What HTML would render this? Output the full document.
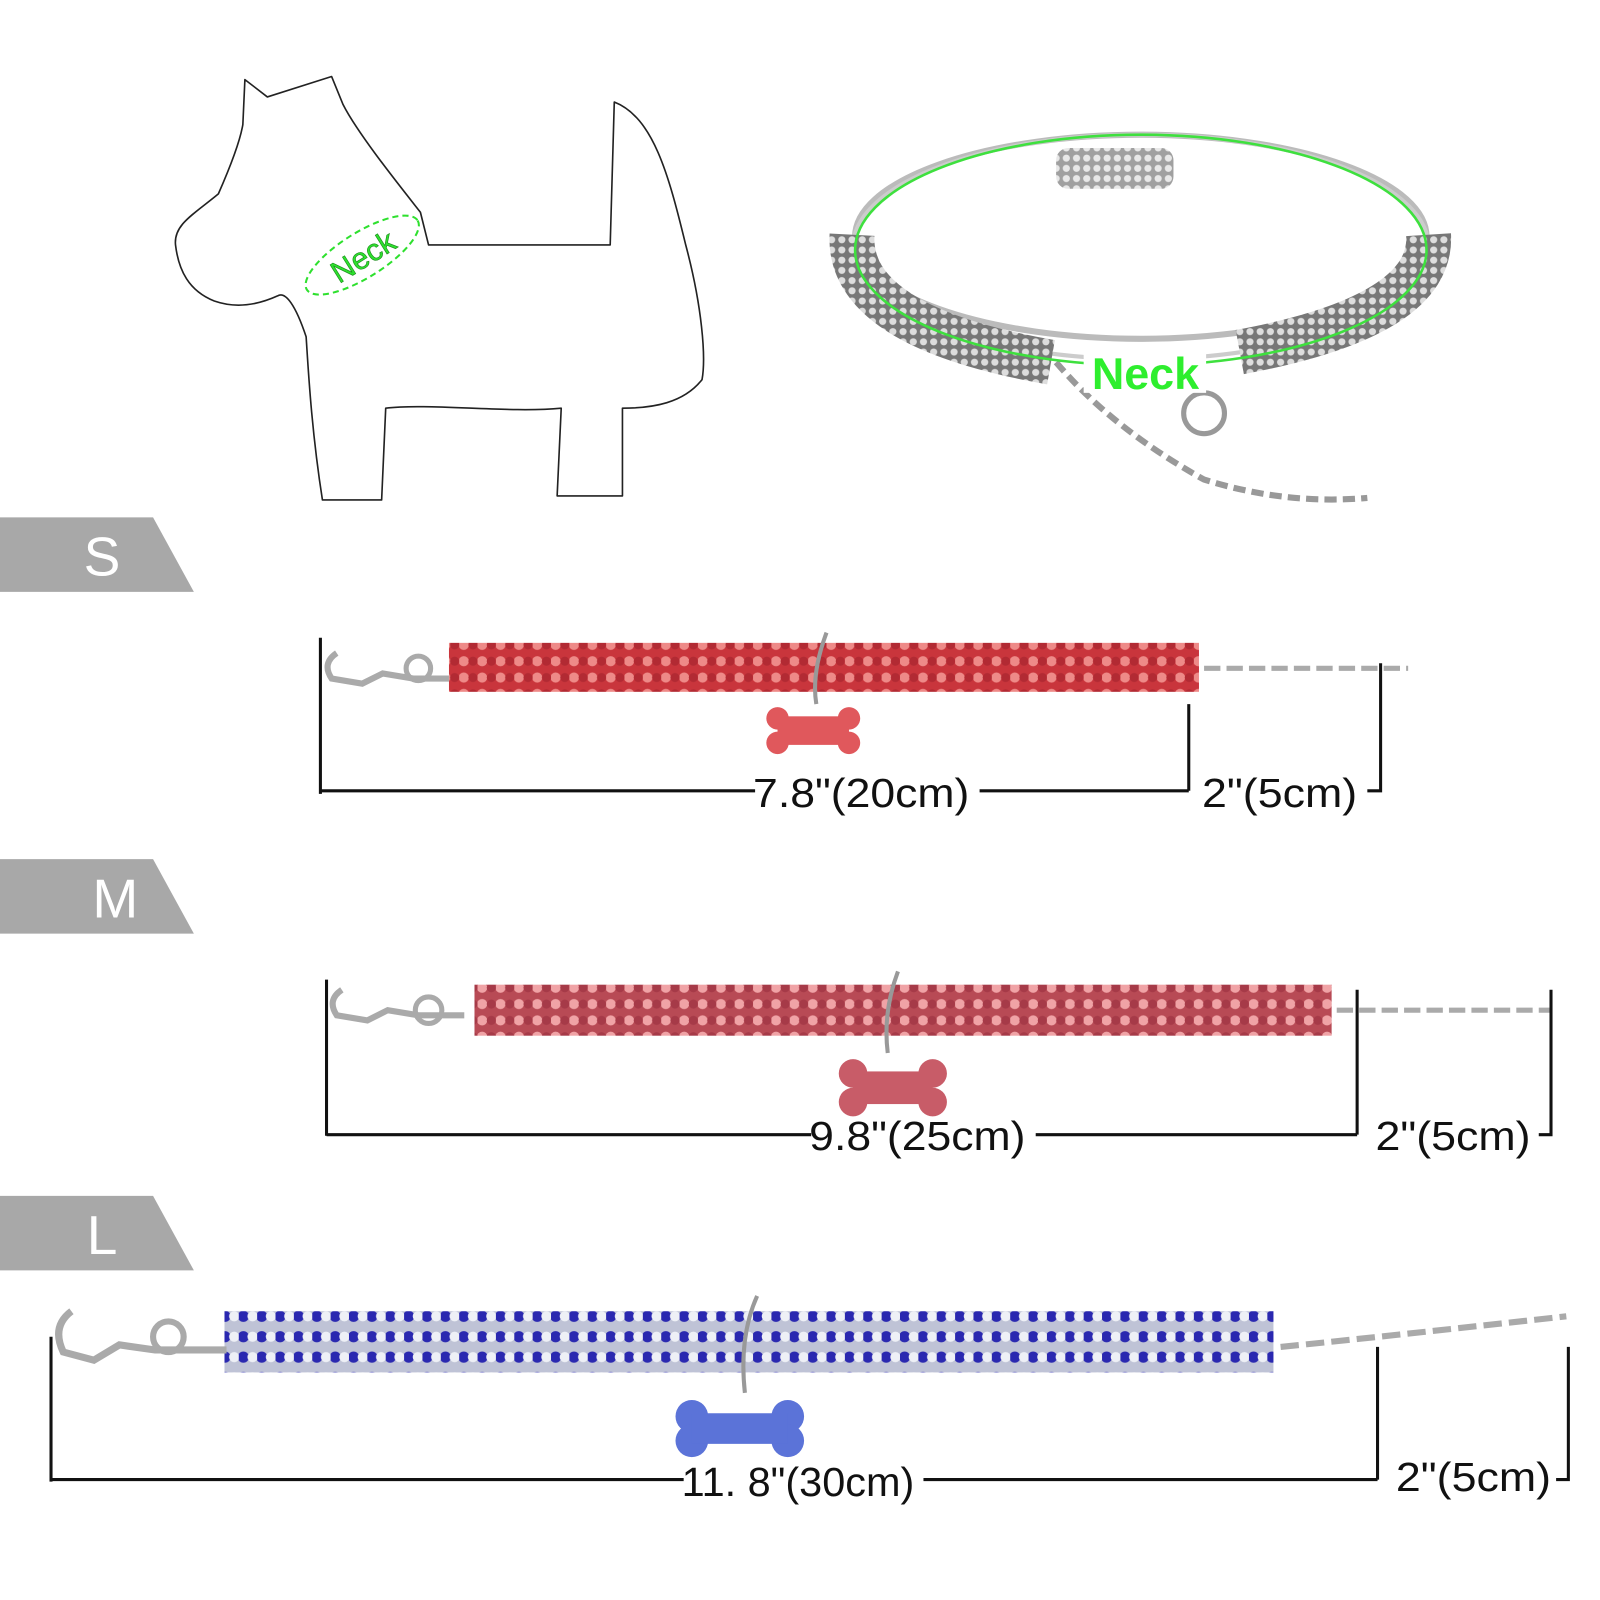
<!DOCTYPE html>
<html><head><meta charset="utf-8"><style>
html,body{margin:0;padding:0;background:#fff;width:1600px;height:1600px;overflow:hidden}
#w{position:absolute;left:0;top:0;width:1568px;height:1568px;transform:scale(1.0204);transform-origin:0 0}
svg{position:absolute;left:0;top:0}
text{font-family:"Liberation Sans",sans-serif}
</style></head><body><div id="w">
<svg width="1568" height="1568" viewBox="0 0 1568 1568">
<defs>
<pattern id="red" width="18" height="16" patternUnits="userSpaceOnUse">
<rect width="18" height="16" fill="#c9353c"/><circle cx="4.5" cy="8" r="5" fill="#ee8a88"/><circle cx="13.5" cy="8" r="4.5" fill="#b22a33"/>
</pattern>
<pattern id="pink" width="18" height="16" patternUnits="userSpaceOnUse">
<rect width="18" height="16" fill="#b84a55"/><circle cx="4.5" cy="8" r="5" fill="#f0a3a6"/><circle cx="13.5" cy="8" r="4.5" fill="#a63a48"/>
</pattern>
<pattern id="blue" width="18" height="20" patternUnits="userSpaceOnUse">
<rect width="18" height="20" fill="#bfc3d6"/><circle cx="4.5" cy="10" r="5.5" fill="#2a28b0"/><circle cx="13.5" cy="10" r="5" fill="#eef0f6"/>
</pattern>
<pattern id="gray" width="10" height="10" patternUnits="userSpaceOnUse">
<rect width="10" height="10" fill="#777"/><circle cx="5" cy="5" r="3.5" fill="#ddd"/>
</pattern>
</defs>

<!-- dog -->
<path d="M238,122 L240,78 L262,95 L325,75 L336,102 C350,130 390,180 412,208 L420,240 L598,240 L602,100 C640,115 655,170 672,240 C688,300 692,350 688,372 C670,395 640,400 610,400 L610,486 L546,486 L550,400 C500,405 420,395 378,400 L374,490 L316,490 C305,420 302,360 300,330 C290,300 280,285 272,290 C250,300 230,302 210,295 C185,285 175,265 172,240 C170,220 190,210 214,190 C225,165 235,140 238,122 Z" fill="none" stroke="#222" stroke-width="1.6" stroke-linejoin="round"/>
<ellipse cx="355" cy="250" rx="64" ry="22" transform="rotate(-32 355 250)" fill="none" stroke="#2ee02e" stroke-width="2" stroke-dasharray="6 4"/>
<text x="355" y="262" font-size="30" fill="#2ee02e" text-anchor="middle" transform="rotate(-32 355 250)" stroke="#1a8a1a" stroke-width="0.6">Neck</text>

<!-- collar -->
<ellipse cx="1118" cy="232" rx="280" ry="100" fill="none" stroke="#bbb" stroke-width="6"/>
<ellipse cx="1118" cy="242" rx="282" ry="110" fill="none" stroke="#ccc" stroke-width="4"/>
<path d="M835,230 Q830,320 1030,355" fill="none" stroke="url(#gray)" stroke-width="44"/>
<path d="M1400,230 Q1405,310 1215,345" fill="none" stroke="url(#gray)" stroke-width="44"/>
<rect x="1035" y="145" width="115" height="40" rx="12" fill="url(#gray)" opacity=".7"/>
<path d="M1035,355 Q1090,420 1180,470 Q1260,495 1340,488" fill="none" stroke="#999" stroke-width="6" stroke-dasharray="12 6"/>
<circle cx="1180" cy="405" r="20" fill="none" stroke="#999" stroke-width="5"/>
<ellipse cx="1118" cy="245" rx="280" ry="113" fill="none" stroke="#3ee03e" stroke-width="2.5"/>
<rect x="1062" y="345" width="120" height="40" fill="#fff"/>
<text x="1070" y="381" font-size="44" font-weight="bold" fill="#2eee2e">Neck</text>

<!-- size tags -->
<g fill="#a8a8a8">
<path d="M0,507 H150 L190,580 H0Z"/><path d="M0,842 H150 L190,915 H0Z"/><path d="M0,1172 H150 L190,1245 H0Z"/>
</g>
<g fill="#fff" font-size="54" text-anchor="middle">
<text x="100" y="564">S</text><text x="113" y="899">M</text><text x="100" y="1229">L</text>
</g>

<!-- S -->
<rect x="440" y="630" width="735" height="48" fill="url(#red)"/>
<path d="M330,640 q-15,10 -5,25 l30,5 l20,-10 l30,5 l35,0" fill="none" stroke="#aaa" stroke-width="6"/>
<circle cx="410" cy="655" r="12" fill="none" stroke="#aaa" stroke-width="5"/>
<path d="M1180,655 h200" fill="none" stroke="#aaa" stroke-width="5" stroke-dasharray="16 6"/>
<path d="M810,620 q-15,40 -10,70" fill="none" stroke="#999" stroke-width="4"/>
<g fill="#e0585c"><circle cx="762" cy="704" r="11"/><circle cx="762" cy="728" r="11"/><circle cx="832" cy="704" r="11"/><circle cx="832" cy="728" r="11"/><rect x="762" y="702" width="70" height="28"/></g>
<g stroke="#111" stroke-width="3" fill="none">
<path d="M314,625 V778 M314,775 H740 M960,775 H1165 M1165,690 V775"/>
<path d="M1340,775 H1353 V650"/>
</g>
<g font-size="40" fill="#111"><text x="738" y="791" textLength="212" lengthAdjust="spacingAndGlyphs">7.8"(20cm)</text><text x="1178" y="791" textLength="152" lengthAdjust="spacingAndGlyphs">2"(5cm)</text></g>

<!-- M -->
<rect x="465" y="965" width="840" height="50" fill="url(#pink)"/>
<path d="M335,970 q-15,10 -5,25 l30,5 l20,-10 l30,5 l45,0" fill="none" stroke="#aaa" stroke-width="6"/>
<circle cx="420" cy="990" r="13" fill="none" stroke="#aaa" stroke-width="5"/>
<path d="M1310,990 h210" fill="none" stroke="#aaa" stroke-width="5" stroke-dasharray="16 6"/>
<path d="M880,952 q-15,40 -10,80" fill="none" stroke="#999" stroke-width="4"/>
<g fill="#c85c68"><circle cx="836" cy="1052" r="14"/><circle cx="836" cy="1080" r="14"/><circle cx="914" cy="1052" r="14"/><circle cx="914" cy="1080" r="14"/><rect x="836" y="1050" width="78" height="32"/></g>
<g stroke="#111" stroke-width="3" fill="none">
<path d="M320,960 V1113 M320,1112 H795 M1015,1112 H1330 M1330,970 V1112"/>
<path d="M1508,1112 H1520 V970"/>
</g>
<g font-size="40" fill="#111"><text x="793" y="1127" textLength="212" lengthAdjust="spacingAndGlyphs">9.8"(25cm)</text><text x="1348" y="1127" textLength="152" lengthAdjust="spacingAndGlyphs">2"(5cm)</text></g>

<!-- L -->
<rect x="220" y="1285" width="1028" height="60" fill="url(#blue)"/>
<path d="M70,1285 q-20,15 -8,40 l30,8 l25,-15 l35,5 l70,0" fill="none" stroke="#aaa" stroke-width="7"/>
<circle cx="165" cy="1310" r="15" fill="none" stroke="#aaa" stroke-width="6"/>
<path d="M1255,1320 q100,-10 280,-30" fill="none" stroke="#aaa" stroke-width="6" stroke-dasharray="18 7"/>
<path d="M742,1270 q-18,40 -12,95" fill="none" stroke="#999" stroke-width="4"/>
<g fill="#5b73d8"><circle cx="678" cy="1388" r="16"/><circle cx="678" cy="1412" r="16"/><circle cx="772" cy="1388" r="16"/><circle cx="772" cy="1412" r="16"/><rect x="678" y="1385" width="94" height="30"/></g>
<g stroke="#111" stroke-width="3" fill="none">
<path d="M50,1310 V1452 M50,1450 H670 M905,1450 H1350 M1350,1320 V1450"/>
<path d="M1525,1450 H1537 V1320"/>
</g>
<g font-size="40" fill="#111"><text x="668" y="1466" textLength="228" lengthAdjust="spacingAndGlyphs">11. 8"(30cm)</text><text x="1368" y="1461" textLength="152" lengthAdjust="spacingAndGlyphs">2"(5cm)</text></g>
</svg>
</div></body></html>
